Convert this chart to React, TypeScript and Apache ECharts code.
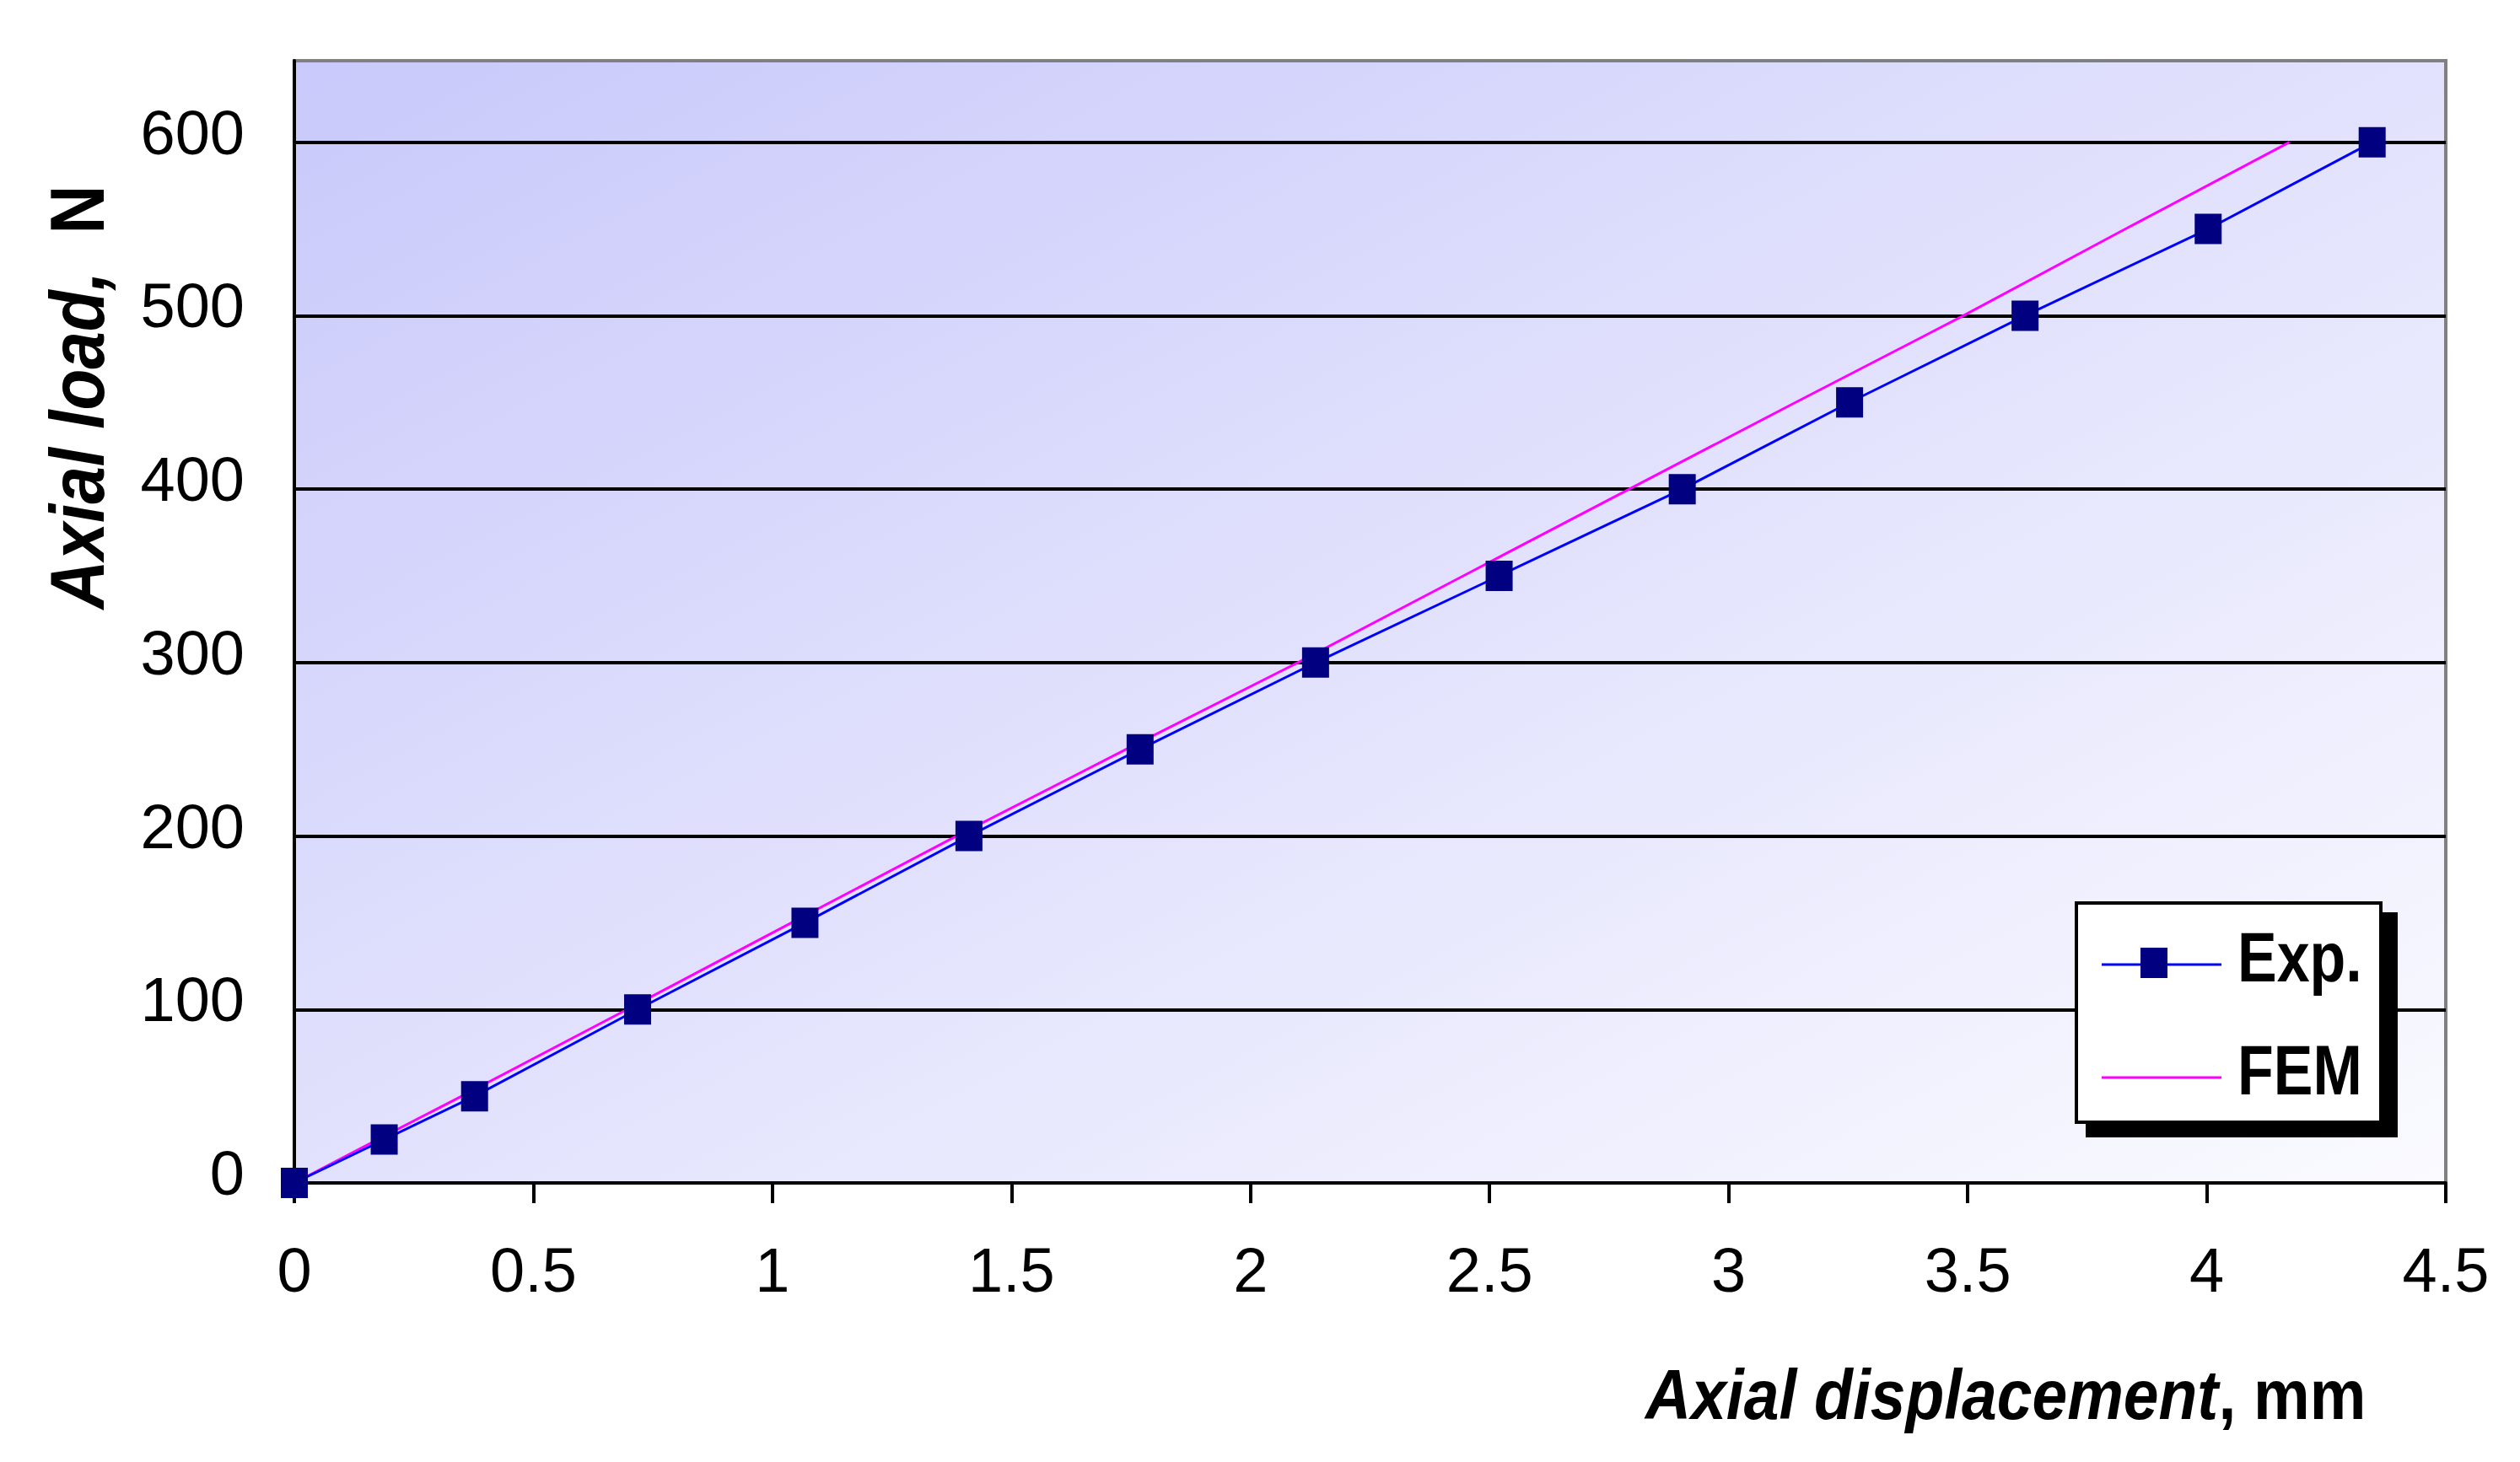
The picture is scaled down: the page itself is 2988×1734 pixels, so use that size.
import React, { useEffect, useRef } from 'react';
import * as echarts from 'echarts';

const FONT = "'Liberation Sans', Arial, Helvetica, sans-serif";

// Experimental data (displacement mm, load N)
const expDisp = [0, 0.188, 0.377, 0.718, 1.068, 1.411, 1.769, 2.136, 2.52, 2.903, 3.253, 3.62, 4.003, 4.346];
const expLoad = [0, 25, 50, 100, 150, 200, 250, 300, 350, 400, 450, 500, 550, 600];

// FEM data
const femDisp = [0, 0.174, 0.35, 0.696, 1.04, 1.385, 1.74, 2.099, 2.445, 2.792, 3.14, 3.491, 3.83, 4.173];
const femLoad = [0, 25, 50, 100, 150, 200, 250, 300, 350, 400, 450, 500, 550, 600];

const legendNames = ['Exp.', 'FEM'];
const xTitleItalic = 'Axial displacement';
const xTitleUnit = ', mm';
const yTitleItalic = 'Axial load,';
const yTitleUnit = '  N';

export default function App() {
  const ref = useRef<HTMLDivElement>(null);
  useEffect(() => {
    const chart = echarts.init(ref.current!, null, { renderer: 'svg' });
    const titleRich = (size: number) => ({
      i: { fontStyle: 'italic', fontWeight: 'bold', fontSize: size, fontFamily: FONT, fill: '#000' },
      n: { fontStyle: 'normal', fontWeight: 'bold', fontSize: size, fontFamily: FONT, fill: '#000' },
    });
    chart.setOption({
      animation: false,
      backgroundColor: '#ffffff',
      grid: {
        left: 349,
        right: 88,
        top: 72,
        bottom: 331,
        show: true,
        backgroundColor: new echarts.graphic.LinearGradient(0, 0, 1, 1, [
          { offset: 0, color: '#C9C9FB' },
          { offset: 1, color: '#FAFAFF' },
        ]),
        borderColor: '#808080',
        borderWidth: 4,
      },
      xAxis: {
        type: 'value',
        min: 0,
        max: 4.5,
        interval: 0.5,
        axisLine: { show: true, onZero: false, lineStyle: { color: '#000', width: 4 } },
        axisTick: { show: true, length: 24, lineStyle: { color: '#000', width: 4 } },
        axisLabel: { margin: 66, fontSize: 74, color: '#000', fontFamily: FONT },
        splitLine: { show: false },
      },
      yAxis: {
        type: 'value',
        min: 0,
        max: 647,
        interval: 100,
        axisLine: { show: true, lineStyle: { color: '#000', width: 4 } },
        axisTick: { show: false },
        axisLabel: {
          margin: 59,
          fontSize: 74,
          color: '#000',
          fontFamily: FONT,
          verticalAlign: 'bottom',
          lineHeight: 23,
          showMaxLabel: false,
          formatter: (v: number) => (v % 100 === 0 ? String(v) : ''),
        },
        splitLine: { show: true, showMinLine: false, showMaxLine: false, lineStyle: { color: '#000', width: 4 } },
      },
      series: [
        {
          name: legendNames[1],
          type: 'line',
          data: femDisp.map((x, i) => [x, femLoad[i]]),
          symbol: 'none',
          showSymbol: false,
          lineStyle: { color: '#FF00FF', width: 3 },
          itemStyle: { color: '#FF00FF' },
          z: 2,
        },
        {
          name: legendNames[0],
          type: 'line',
          data: expDisp.map((x, i) => [x, expLoad[i]]),
          symbol: 'rect',
          symbolSize: [32, 36],
          lineStyle: { color: '#0000FF', width: 3 },
          itemStyle: { color: '#000080', borderWidth: 0 },
          z: 3,
        },
      ],
      graphic: [
        { type: 'rect', z: 10, shape: { x: 2473, y: 1082, width: 370, height: 267 }, style: { fill: '#000' } },
        {
          type: 'rect',
          z: 11,
          shape: { x: 2462, y: 1071, width: 361, height: 260 },
          style: { fill: '#fff', stroke: '#000', lineWidth: 4 },
        },
        {
          type: 'line',
          z: 12,
          shape: { x1: 2492, y1: 1144, x2: 2634, y2: 1144 },
          style: { stroke: '#0000FF', lineWidth: 3 },
        },
        { type: 'rect', z: 13, shape: { x: 2538, y: 1124, width: 32, height: 36 }, style: { fill: '#000080' } },
        {
          type: 'line',
          z: 12,
          shape: { x1: 2492, y1: 1278, x2: 2634, y2: 1278 },
          style: { stroke: '#FF00FF', lineWidth: 3 },
        },
        {
          type: 'text',
          z: 12,
          x: 2653,
          y: 1135,
          scaleY: 1.18,
          style: {
            text: legendNames[0],
            fontSize: 70,
            fontWeight: 'bold',
            fontFamily: FONT,
            fill: '#000',
            align: 'left',
            verticalAlign: 'middle',
            textAlign: 'left',
            textVerticalAlign: 'middle',
          },
        },
        {
          type: 'text',
          z: 12,
          x: 2653,
          y: 1269,
          scaleY: 1.18,
          style: {
            text: legendNames[1],
            fontSize: 70,
            fontWeight: 'bold',
            fontFamily: FONT,
            fill: '#000',
            align: 'left',
            verticalAlign: 'middle',
            textAlign: 'left',
            textVerticalAlign: 'middle',
          },
        },
        {
          type: 'text',
          z: 12,
          x: 1951,
          y: 1655,
          scaleY: 1.1,
          style: {
            text: `{i|${xTitleItalic}}{n|${xTitleUnit}}`,
            rich: titleRich(75),
            fontSize: 75,
            fontFamily: FONT,
            align: 'left',
            verticalAlign: 'middle',
            textAlign: 'left',
            textVerticalAlign: 'middle',
          },
        },
        {
          type: 'text',
          z: 12,
          x: 91,
          y: 471,
          rotation: Math.PI / 2,
          scaleY: 1.14,
          style: {
            text: `{i|${yTitleItalic}}{n|${yTitleUnit}}`,
            rich: titleRich(80),
            fontSize: 80,
            fontFamily: FONT,
            align: 'center',
            verticalAlign: 'middle',
            textAlign: 'center',
            textVerticalAlign: 'middle',
          },
        },
      ],
    });
    return () => chart.dispose();
  }, []);
  return (
    <div
      ref={ref}
      style={{ position: 'fixed', left: 0, top: 0, width: 2988, height: 1734, background: '#fff' }}
    />
  );
}
